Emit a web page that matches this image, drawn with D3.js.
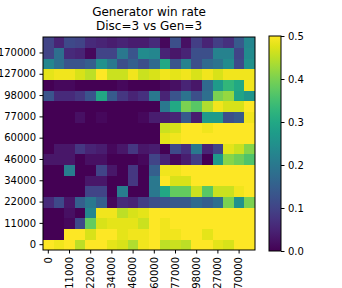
<!DOCTYPE html>
<html><head><meta charset="utf-8">
<script src="https://cdn.jsdelivr.net/npm/d3@7"></script>
<style>body{margin:0;background:#fff}svg{display:block}text{font-family:"DejaVu Sans",sans-serif;fill:#000}</style>
</head><body><svg id="c" width="342" height="288"></svg>
<script>
// Row index 0 = bottom (0), 19 = top. Column index 0 = left.
const nSteps = 20;
const tickLabels = ["0","11000","22000","34000","46000","60000","77000","98000","127000","170000"];
const colorTicks = [0.0,0.1,0.2,0.3,0.4,0.5];
const row0  = [0.50,0.49,0.50,0.45,0.50,0.50,0.48,0.47,0.44,0.49,0.50,0.45,0.46,0.45,0.50,0.50,0.48,0.47,0.50,0.50];
const row1  = [0.00,0.00,0.50,0.50,0.47,0.50,0.50,0.48,0.49,0.49,0.50,0.49,0.49,0.50,0.50,0.48,0.50,0.50,0.50,0.50];
const row2  = [0.00,0.00,0.01,0.11,0.38,0.47,0.48,0.48,0.48,0.46,0.50,0.49,0.50,0.50,0.50,0.50,0.50,0.50,0.50,0.50];
const row3  = [0.00,0.00,0.02,0.00,0.23,0.49,0.49,0.45,0.47,0.48,0.50,0.50,0.50,0.50,0.50,0.50,0.50,0.50,0.50,0.50];
const row4  = [0.06,0.11,0.03,0.15,0.20,0.15,0.01,0.06,0.05,0.09,0.12,0.13,0.14,0.14,0.17,0.15,0.18,0.40,0.25,0.40];
const row5  = [0.00,0.00,0.00,0.00,0.10,0.10,0.00,0.21,0.00,0.00,0.20,0.30,0.38,0.38,0.46,0.37,0.46,0.46,0.49,0.50];
const row6  = [0.00,0.00,0.00,0.00,0.03,0.03,0.00,0.00,0.08,0.00,0.20,0.50,0.47,0.47,0.50,0.50,0.50,0.50,0.50,0.50];
const row7  = [0.00,0.00,0.21,0.00,0.00,0.10,0.03,0.00,0.08,0.00,0.15,0.49,0.49,0.50,0.50,0.50,0.50,0.50,0.50,0.50];
const row8  = [0.03,0.03,0.03,0.00,0.02,0.02,0.00,0.00,0.00,0.01,0.10,0.05,0.01,0.04,0.09,0.00,0.27,0.41,0.39,0.36];
const row9  = [0.00,0.03,0.03,0.08,0.05,0.04,0.01,0.03,0.08,0.03,0.04,0.00,0.11,0.07,0.20,0.05,0.10,0.48,0.46,0.41];
const row10 = [0.00,0.00,0.00,0.00,0.00,0.00,0.00,0.00,0.00,0.00,0.00,0.48,0.49,0.50,0.50,0.50,0.50,0.50,0.50,0.50];
const row11 = [0.00,0.00,0.00,0.00,0.00,0.00,0.00,0.00,0.00,0.00,0.00,0.46,0.47,0.50,0.50,0.49,0.50,0.50,0.50,0.50];
const row12 = [0.00,0.00,0.00,0.02,0.00,0.01,0.00,0.00,0.00,0.01,0.04,0.04,0.05,0.14,0.04,0.27,0.27,0.12,0.14,0.49];
const row13 = [0.00,0.00,0.00,0.00,0.00,0.00,0.00,0.00,0.00,0.00,0.00,0.20,0.30,0.40,0.37,0.44,0.49,0.47,0.47,0.50];
const row14 = [0.13,0.06,0.06,0.08,0.13,0.30,0.14,0.08,0.05,0.07,0.20,0.05,0.13,0.19,0.12,0.18,0.40,0.42,0.29,0.26];
const row15 = [0.00,0.01,0.01,0.00,0.00,0.00,0.00,0.01,0.00,0.00,0.00,0.01,0.02,0.05,0.03,0.17,0.27,0.33,0.30,0.49];
const row16 = [0.48,0.49,0.49,0.47,0.45,0.50,0.46,0.46,0.49,0.46,0.47,0.49,0.48,0.49,0.47,0.49,0.47,0.49,0.49,0.49];
const row17 = [0.23,0.18,0.13,0.13,0.15,0.25,0.20,0.12,0.15,0.12,0.17,0.30,0.13,0.22,0.12,0.17,0.19,0.24,0.11,0.25];
const row18 = [0.10,0.18,0.06,0.05,0.01,0.10,0.10,0.20,0.13,0.24,0.23,0.05,0.03,0.05,0.12,0.12,0.22,0.22,0.10,0.24];
const row19 = [0.10,0.05,0.11,0.10,0.06,0.05,0.04,0.05,0.04,0.04,0.06,0.01,0.12,0.02,0.09,0.05,0.09,0.07,0.14,0.23];
const rows = [row0,row1,row2,row3,row4,row5,row6,row7,row8,row9,row10,row11,row12,row13,row14,row15,row16,row17,row18,row19];

const svg = d3.select("#c");
const L = 43, T = 37, W = 212, H = 213;
const idx = d3.range(nSteps);
const x = d3.scaleBand().domain(idx).range([L, L+W]);
const y = d3.scaleBand().domain(idx).range([T+H, T]);
const color = d3.scaleSequential(d3.interpolateViridis).domain([0, 0.5]);

const cells = [];
rows.forEach((r, ri) => r.forEach((v, ci) => cells.push({r: ri, c: ci, v})));
svg.append("g").selectAll("rect").data(cells).join("rect")
  .attr("x", d => x(d.c)).attr("y", d => y(d.r))
  .attr("width", x.bandwidth()+0.3).attr("height", y.bandwidth()+0.3)
  .attr("fill", d => color(d.v)).attr("shape-rendering","crispEdges");
svg.append("rect").attr("x", L).attr("y", T).attr("width", W).attr("height", H)
  .attr("fill","none").attr("stroke","#000").attr("stroke-width",1);

const labelAt = i => i % 2 === 0 ? tickLabels[i/2] : null;
const tickIdx = idx.filter(i => i % 2 === 0);

const yAxis = d3.axisLeft(y).tickValues(tickIdx).tickFormat(labelAt).tickSize(3.5).tickPadding(3.5);
const gy = svg.append("g").attr("transform", `translate(${L},0)`).call(yAxis);
gy.select(".domain").remove();
gy.selectAll("text").style("font-size","10px").style("font-family","DejaVu Sans");

const xAxis = d3.axisBottom(x).tickValues(tickIdx).tickFormat(labelAt).tickSize(3.5).tickPadding(3.5);
const gx = svg.append("g").attr("transform", `translate(0,${T+H})`).call(xAxis);
gx.select(".domain").remove();
gx.selectAll("text").style("font-size","10px").style("font-family","DejaVu Sans")
  .attr("transform","rotate(-90)").attr("text-anchor","end").attr("dy","0.32em")
  .attr("x", -7).attr("y", 0);

// colorbar
const CL = 269, CW = 12, CT = 36, CH = 215;
const cy = d3.scaleLinear().domain([0, 0.5]).range([CT+CH, CT]);
const defs = svg.append("defs");
const grad = defs.append("linearGradient").attr("id","vir").attr("x1",0).attr("y1",1).attr("x2",0).attr("y2",0);
d3.range(0, 1.0001, 0.05).forEach(t => grad.append("stop").attr("offset", t).attr("stop-color", color(t*0.5)));
svg.append("rect").attr("x", CL).attr("y", CT).attr("width", CW).attr("height", CH).attr("fill","url(#vir)")
  .attr("stroke","#000").attr("stroke-width",1);
const cAxis = d3.axisRight(cy).tickValues(colorTicks).tickFormat(d3.format(".1f")).tickSize(3.5).tickPadding(3.5);
const gc = svg.append("g").attr("transform", `translate(${CL+CW},0)`).call(cAxis);
gc.select(".domain").remove();
gc.selectAll("text").style("font-size","10px").style("font-family","DejaVu Sans");

svg.append("text").attr("x", 149).attr("y", 16).attr("text-anchor","middle").style("font-size","12px").text("Generator win rate");
svg.append("text").attr("x", 149).attr("y", 30).attr("text-anchor","middle").style("font-size","12px").text("Disc=3 vs Gen=3");
</script></body></html>
